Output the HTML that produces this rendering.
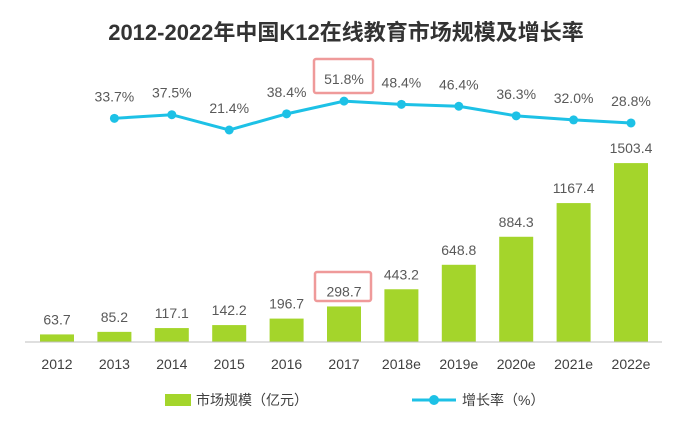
<!DOCTYPE html>
<html><head><meta charset="utf-8"><style>
body{margin:0;background:#fff;font-family:"Liberation Sans","Noto Sans CJK SC",sans-serif}
svg text{font-family:"Liberation Sans","Noto Sans CJK SC",sans-serif}
</style></head><body>
<svg id="c" width="688" height="424" viewBox="0 0 688 424">
<text x="346" y="40" text-anchor="middle" font-size="22" font-weight="bold" fill="#333">2012-2022年中国K12在线教育市场规模及增长率</text>
<g id="bars"></g><g id="line"></g>
<line x1="25" y1="342" x2="662" y2="342" stroke="#bfbfbf" stroke-width="1"/>
<rect x="314" y="59" width="59" height="34" fill="none" stroke="#ef9a9a" stroke-width="2.5" rx="2"/>
<rect x="315" y="272" width="56" height="29" fill="none" stroke="#ef9a9a" stroke-width="2.5" rx="2"/>
<g>
<rect x="165" y="394" width="26" height="12" fill="#a4d52b"/>
<text x="196" y="405" font-size="14" fill="#404040">市场规模（亿元）</text>
<line x1="412" y1="400" x2="456" y2="400" stroke="#1dc1e6" stroke-width="3"/>
<circle cx="434" cy="400" r="5" fill="#1dc1e6"/>
<text x="462" y="405" font-size="14" fill="#404040">增长率（%）</text>
</g>
</svg>
<script>
const categories=["2012","2013","2014","2015","2016","2017","2018e","2019e","2020e","2021e","2022e"];
const marketValues=[63.7,85.2,117.1,142.2,196.7,298.7,443.2,648.8,884.3,1167.4,1503.4];
const rateCategories=["2013","2014","2015","2016","2017","2018e","2019e","2020e","2021e","2022e"];
const rateValues=[33.7,37.5,21.4,38.4,51.8,48.4,46.4,36.3,32.0,28.8];
const NS="http://www.w3.org/2000/svg";
const xPos=c=>57+categories.indexOf(c)*57.4;
const yBar=v=>342-v*0.119;
const yRate=v=>130-(v-21.4)*0.95;
const bars=document.getElementById('bars'),line=document.getElementById('line');
function mk(tag,a,p){const e=document.createElementNS(NS,tag);for(const k in a)e.setAttribute(k,a[k]);p.appendChild(e);return e;}
categories.forEach((c,i)=>{
 const x=xPos(c),v=marketValues[i];
 const r=mk('rect',{x:x-17,y:yBar(v),width:34,height:342-yBar(v),fill:'#a4d52b'},bars);
 
 
 const t=mk('text',{x:x,y:yBar(v)-10,'text-anchor':'middle','font-size':14,fill:'#595959'},bars);
 t.textContent=v.toFixed(1);
 
 
 const l=mk('text',{x:x,y:369,'text-anchor':'middle','font-size':14,fill:'#404040'},bars);
 l.textContent=c;
 
 
});
const pts=rateCategories.map((c,i)=>[xPos(c),yRate(rateValues[i])]);
const pl=mk('polyline',{points:pts.map(p=>p.join(',')).join(' '),fill:'none',stroke:'#1dc1e6','stroke-width':3},line);


rateCategories.forEach((c,i)=>{
 const [x,y]=pts[i];
 const m=mk('circle',{cx:x,cy:y,r:4.5,fill:'#1dc1e6'},line);
 
 
 const t=mk('text',{x:x,y:y-17,'text-anchor':'middle','font-size':14,fill:'#595959'},line);
 t.textContent=rateValues[i].toFixed(1)+'%';
 
 
});
</script>
</body></html>
